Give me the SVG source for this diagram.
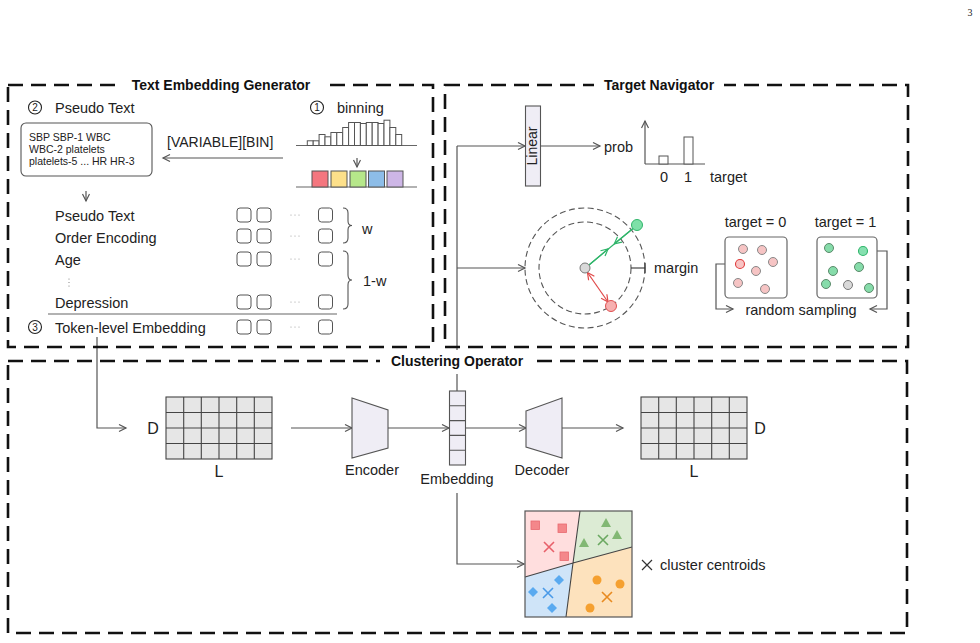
<svg xmlns="http://www.w3.org/2000/svg" width="980" height="643" viewBox="0 0 980 643">
<style>
.dash{fill:none;stroke:#111;stroke-width:2.6;stroke-dasharray:15 8}
.ln{fill:none;stroke:#555;stroke-width:1.2}
.t{font-family:"Liberation Sans",Arial,sans-serif;fill:#222;font-size:14px}
.s{font-size:10.5px}
.ttl{font-weight:bold;font-size:14px;fill:#111}
.sq{fill:#fff;stroke:#555;stroke-width:1}
.cell{fill:#e6e6e6;stroke:#444;stroke-width:1.1}
.lav{fill:#efedf5;stroke:#555;stroke-width:1.1}
.bar{fill:#fff;stroke:#555;stroke-width:1}
.pk{fill:#f6c4c4;stroke:#888;stroke-width:1}
.gr{fill:#86dcaa;stroke:#5a8a6a;stroke-width:1}
.gy{fill:#d9d9d9;stroke:#777;stroke-width:1}
</style>
<defs>
<marker id="a" markerWidth="10" markerHeight="10" refX="8" refY="4" orient="auto" markerUnits="userSpaceOnUse"><path d="M1,0.5 L8,4 L1,7.5" fill="none" stroke="#555" stroke-width="1.2"/></marker>
<marker id="ag" markerWidth="10" markerHeight="10" refX="8" refY="4" orient="auto" markerUnits="userSpaceOnUse"><path d="M1,0.5 L8,4 L1,7.5" fill="none" stroke="#2fb56a" stroke-width="1.2"/></marker>
<marker id="ar" markerWidth="10" markerHeight="10" refX="8" refY="4" orient="auto-start-reverse" markerUnits="userSpaceOnUse"><path d="M1,0.5 L8,4 L1,7.5" fill="none" stroke="#e04848" stroke-width="1.2"/></marker>
</defs>
<rect width="980" height="643" fill="#fff"/>
<text x="970" y="16" style="font-family:'Liberation Serif',serif;font-size:10px;fill:#222" text-anchor="middle">3</text>

<g id="connectors">
<polyline class="ln" points="97,337 97,428 126,428" marker-end="url(#a)"/>
<line class="ln" x1="283" y1="158" x2="163" y2="158" marker-end="url(#a)"/>
<line class="ln" x1="357" y1="158" x2="357" y2="167" marker-end="url(#a)"/>
<line class="ln" x1="86" y1="191" x2="86" y2="201" marker-end="url(#a)"/>
<line class="ln" x1="457" y1="146" x2="457" y2="391"/>
<line class="ln" x1="457" y1="146" x2="525" y2="146" marker-end="url(#a)"/>
<line class="ln" x1="457" y1="268" x2="525" y2="268" marker-end="url(#a)"/>
<line class="ln" x1="540" y1="146" x2="600" y2="146" marker-end="url(#a)"/>
<polyline class="ln" points="735,264 716,264 716,309 733,309" marker-end="url(#a)"/>
<polyline class="ln" points="868,251 887,251 887,309 870,309" marker-end="url(#a)"/>
<line class="ln" x1="291" y1="428" x2="352" y2="428" marker-end="url(#a)"/>
<line class="ln" x1="388" y1="428" x2="449" y2="428" marker-end="url(#a)"/>
<line class="ln" x1="466" y1="428" x2="526" y2="428" marker-end="url(#a)"/>
<line class="ln" x1="562" y1="428" x2="623" y2="428" marker-end="url(#a)"/>
<polyline class="ln" points="457,493 457,564 524,564" marker-end="url(#a)"/>
</g>

<g id="text-embedding-generator">
<rect class="dash" x="8" y="85" width="425" height="262"/>
<rect x="118" y="76" width="206" height="18" fill="#fff"/>
<text class="t ttl" x="221" y="90" text-anchor="middle">Text Embedding Generator</text>
<circle cx="35" cy="107.5" r="6.5" fill="none" stroke="#222" stroke-width="1.1"/>
<text class="t" x="35" y="111" text-anchor="middle" style="font-size:10px">2</text>
<text class="t" x="55" y="113" style="font-size:14.5px">Pseudo Text</text>
<circle cx="317" cy="107.5" r="6.5" fill="none" stroke="#222" stroke-width="1.1"/>
<text class="t" x="317" y="111" text-anchor="middle" style="font-size:10px">1</text>
<text class="t" x="337" y="113" style="font-size:14.5px">binning</text>
<rect x="21" y="123" width="131" height="53" rx="5" fill="#fff" stroke="#555" stroke-width="1.1"/>
<text class="t s" x="29" y="141">SBP SBP-1 WBC</text>
<text class="t s" x="29" y="153">WBC-2 platelets</text>
<text class="t s" x="29" y="165">platelets-5 ... HR HR-3</text>
<text class="t" x="167" y="147">[VARIABLE][BIN]</text>
<line x1="296" y1="145.5" x2="417" y2="145.5" stroke="#666" stroke-width="1.2"/>
<g>
<rect class="bar" x="307.3" y="140.8" width="5.9" height="4.7"/>
<rect class="bar" x="313.2" y="140.8" width="5.9" height="4.7"/>
<rect class="bar" x="319.1" y="134.5" width="5.9" height="11"/>
<rect class="bar" x="325" y="136.8" width="5.9" height="8.7"/>
<rect class="bar" x="330.9" y="132.5" width="5.9" height="13"/>
<rect class="bar" x="336.8" y="132.5" width="5.9" height="13"/>
<rect class="bar" x="342.7" y="127.5" width="5.9" height="18"/>
<rect class="bar" x="348.6" y="122.5" width="5.9" height="23"/>
<rect class="bar" x="354.5" y="122.5" width="5.9" height="23"/>
<rect class="bar" x="360.4" y="123.5" width="5.9" height="22"/>
<rect class="bar" x="366.3" y="122.5" width="5.9" height="23"/>
<rect class="bar" x="372.2" y="122.5" width="5.9" height="23"/>
<rect class="bar" x="378.1" y="123.5" width="5.9" height="22"/>
<rect class="bar" x="384" y="120.2" width="5.9" height="25.3"/>
<rect class="bar" x="389.9" y="127.5" width="5.9" height="18"/>
<rect class="bar" x="395.8" y="134.5" width="5.9" height="11"/>
</g>
<line x1="296" y1="187" x2="417" y2="187" stroke="#666" stroke-width="1.2"/>
<rect x="312" y="171" width="16" height="16" fill="#f4777f" stroke="#555" stroke-width="1"/>
<rect x="331" y="171" width="16" height="16" fill="#fde08a" stroke="#555" stroke-width="1"/>
<rect x="350" y="171" width="16" height="16" fill="#b6e78a" stroke="#555" stroke-width="1"/>
<rect x="368.5" y="171" width="16" height="16" fill="#8dbde8" stroke="#555" stroke-width="1"/>
<rect x="387" y="171" width="16" height="16" fill="#cdb6e6" stroke="#555" stroke-width="1"/>
<text class="t" x="55" y="221" style="font-size:14.5px">Pseudo Text</text>
<text class="t" x="55" y="243" style="font-size:14.5px">Order Encoding</text>
<text class="t" x="55" y="265" style="font-size:14.5px">Age</text>
<circle cx="69" cy="279" r="0.6" fill="#777"/><circle cx="69" cy="282.5" r="0.6" fill="#777"/><circle cx="69" cy="286" r="0.6" fill="#777"/>
<text class="t" x="55" y="308" style="font-size:14.5px">Depression</text>
<line x1="48" y1="314" x2="337" y2="314" stroke="#666" stroke-width="1.1"/>
<circle cx="35" cy="327" r="6.5" fill="none" stroke="#222" stroke-width="1.1"/>
<text class="t" x="35" y="330.5" text-anchor="middle" style="font-size:10px">3</text>
<text class="t" x="55" y="333" style="font-size:14.5px">Token-level Embedding</text>
<g>
<rect class="sq" x="237" y="208" width="14" height="14" rx="3"/><rect class="sq" x="257" y="208" width="14" height="14" rx="3"/><rect class="sq" x="318.5" y="208" width="14" height="14" rx="3"/>
<rect class="sq" x="237" y="229" width="14" height="14" rx="3"/><rect class="sq" x="257" y="229" width="14" height="14" rx="3"/><rect class="sq" x="318.5" y="229" width="14" height="14" rx="3"/>
<rect class="sq" x="237" y="252" width="14" height="14" rx="3"/><rect class="sq" x="257" y="252" width="14" height="14" rx="3"/><rect class="sq" x="318.5" y="252" width="14" height="14" rx="3"/>
<rect class="sq" x="237" y="295" width="14" height="14" rx="3"/><rect class="sq" x="257" y="295" width="14" height="14" rx="3"/><rect class="sq" x="318.5" y="295" width="14" height="14" rx="3"/>
<rect class="sq" x="237" y="320" width="14" height="14" rx="3"/><rect class="sq" x="257" y="320" width="14" height="14" rx="3"/><rect class="sq" x="318.5" y="320" width="14" height="14" rx="3"/>
</g>
<g fill="#999">
<circle cx="291" cy="215" r="0.6"/><circle cx="295" cy="215" r="0.6"/><circle cx="299" cy="215" r="0.6"/>
<circle cx="291" cy="236" r="0.6"/><circle cx="295" cy="236" r="0.6"/><circle cx="299" cy="236" r="0.6"/>
<circle cx="291" cy="259" r="0.6"/><circle cx="295" cy="259" r="0.6"/><circle cx="299" cy="259" r="0.6"/>
<circle cx="291" cy="302" r="0.6"/><circle cx="295" cy="302" r="0.6"/><circle cx="299" cy="302" r="0.6"/>
<circle cx="291" cy="327" r="0.6"/><circle cx="295" cy="327" r="0.6"/><circle cx="299" cy="327" r="0.6"/>
</g>
<path d="M343,208 Q348,208 348,213 L348,221 Q348,225.5 352,225.5 Q348,225.5 348,230 L348,238 Q348,243 343,243" fill="none" stroke="#555" stroke-width="1.1"/>
<text class="t" x="362" y="234" style="font-size:14.5px">w</text>
<path d="M343,251 Q348,251 348,256 L348,275 Q348,280 352,280 Q348,280 348,285 L348,304 Q348,309 343,309" fill="none" stroke="#555" stroke-width="1.1"/>
<text class="t" x="363" y="286" style="font-size:14.5px">1-w</text>
</g>

<g id="target-navigator">
<rect class="dash" x="445" y="85" width="463" height="262"/>
<rect x="594" y="76" width="130" height="18" fill="#fff"/>
<text class="t ttl" x="659" y="90" text-anchor="middle">Target Navigator</text>
<rect class="lav" x="525.5" y="106" width="15" height="80"/>
<text class="t" transform="translate(537,146) rotate(-90)" text-anchor="middle" style="font-size:14px">Linear</text>
<text class="t" x="604" y="152" style="font-size:14.5px">prob</text>
<line class="ln" x1="645" y1="164" x2="645" y2="121" marker-end="url(#a)"/>
<line class="ln" x1="645" y1="164" x2="705" y2="164"/>
<rect class="bar" x="659" y="156" width="9" height="8"/>
<rect class="bar" x="684" y="137" width="9" height="27"/>
<text class="t" x="664" y="182" text-anchor="middle" style="font-size:14.5px">0</text>
<text class="t" x="688" y="182" text-anchor="middle" style="font-size:14.5px">1</text>
<text class="t" x="710" y="182" style="font-size:14.5px">target</text>
<circle cx="585" cy="268" r="60" fill="none" stroke="#555" stroke-width="1.1" stroke-dasharray="6 3.5"/>
<circle cx="585" cy="268" r="46" fill="none" stroke="#555" stroke-width="1.1" stroke-dasharray="6 3.5"/>
<line x1="633" y1="228.5" x2="589" y2="265" stroke="#2fb56a" stroke-width="1.2"/>
<line x1="633" y1="228.5" x2="614.3" y2="243.8" stroke="#2fb56a" stroke-width="1.2" marker-end="url(#ag)"/>
<line x1="589" y1="265" x2="608.1" y2="248.9" stroke="#2fb56a" stroke-width="1.2" marker-end="url(#ag)"/>
<line x1="587.5" y1="272.5" x2="608" y2="302" stroke="#e04848" stroke-width="1.2" marker-start="url(#ar)" marker-end="url(#ar)"/>
<circle cx="585" cy="268" r="5" class="gy"/>
<circle cx="637" cy="225" r="5.5" fill="#7ee0a8" stroke="#2fb56a" stroke-width="1"/>
<circle cx="611" cy="306" r="5.5" fill="#f7b0b0" stroke="#e05050" stroke-width="1"/>
<line x1="631" y1="268" x2="645" y2="268" stroke="#333" stroke-width="1.1"/>
<line x1="645" y1="263" x2="645" y2="273" stroke="#333" stroke-width="1.1"/>
<text class="t" x="654" y="273" style="font-size:14.5px">margin</text>
<text class="t" x="755.5" y="227" text-anchor="middle" style="font-size:14.5px">target = 0</text>
<text class="t" x="845.5" y="227" text-anchor="middle" style="font-size:14.5px">target = 1</text>
<rect x="725" y="237" width="62" height="61" rx="4" fill="#fff" stroke="#666" stroke-width="1.2"/>
<rect x="817" y="237" width="60" height="61" rx="4" fill="#fff" stroke="#666" stroke-width="1.2"/>
<circle class="pk" cx="743" cy="249" r="4.5"/>
<circle class="pk" cx="762" cy="250" r="4.5"/>
<circle class="pk" cx="773" cy="262" r="4.5"/>
<circle cx="740" cy="264" r="4.5" fill="#f8c4c4" stroke="#e03c3c" stroke-width="1.1"/>
<circle class="pk" cx="756" cy="271" r="4.5"/>
<circle class="pk" cx="738" cy="283" r="4.5"/>
<circle class="pk" cx="765" cy="289" r="4.5"/>
<circle class="gr" cx="829" cy="248" r="4.5"/>
<circle cx="863" cy="251" r="4.5" fill="#86e0b0" stroke="#2fb56a" stroke-width="1.1"/>
<circle class="gr" cx="833" cy="271" r="4.5"/>
<circle class="gr" cx="859" cy="267" r="4.5"/>
<circle class="gr" cx="826" cy="284" r="4.5"/>
<circle class="gy" cx="848" cy="285" r="4.5"/>
<circle class="gr" cx="869" cy="288" r="4.5"/>
<text class="t" x="801" y="315" text-anchor="middle" style="font-size:14.5px">random sampling</text>
</g>

<g id="clustering-operator">
<rect class="dash" x="8" y="361" width="899" height="272"/>
<rect x="380" y="350" width="154" height="24" fill="#fff"/>
<text class="t ttl" x="457" y="366" text-anchor="middle">Clustering Operator</text>
</g>

<g id="input-grid">
<rect class="cell" x="166" y="397" width="106" height="62"/>
<path d="M183.7,397V459M201.3,397V459M219,397V459M236.7,397V459M254.3,397V459M166,412.5H272M166,428H272M166,443.5H272" stroke="#444" stroke-width="1.1"/>
<text class="t" x="153" y="434" text-anchor="middle" style="font-size:16px">D</text>
<text class="t" x="219" y="477" text-anchor="middle" style="font-size:16px">L</text>
</g>

<g id="encoder">
<polygon class="lav" points="352,398 388,410 388,448 352,458"/>
<text class="t" x="372" y="475" text-anchor="middle" style="font-size:14.5px">Encoder</text>
</g>

<g id="embedding">
<rect class="lav" x="449.5" y="391" width="16" height="74"/>
<path d="M449.5,405.8H465.5M449.5,420.6H465.5M449.5,435.4H465.5M449.5,450.2H465.5" stroke="#555" stroke-width="1.1"/>
<text class="t" x="457" y="484" text-anchor="middle" style="font-size:14.5px">Embedding</text>
</g>

<g id="decoder">
<polygon class="lav" points="526,411 562,398 562,458 526,447"/>
<text class="t" x="542" y="475" text-anchor="middle" style="font-size:14.5px">Decoder</text>
</g>

<g id="output-grid">
<rect class="cell" x="641" y="397" width="106" height="62"/>
<path d="M658.7,397V459M676.3,397V459M694,397V459M711.7,397V459M729.3,397V459M641,412.5H747M641,428H747M641,443.5H747" stroke="#444" stroke-width="1.1"/>
<text class="t" x="760" y="434" text-anchor="middle" style="font-size:16px">D</text>
<text class="t" x="694" y="477" text-anchor="middle" style="font-size:16px">L</text>
</g>

<g id="clusters">
<polygon points="525,511 580,511 573,563 525,577" fill="#ffdede"/>
<polygon points="580,511 632,511 632,547 573,563" fill="#dcebd4"/>
<polygon points="525,577 573,563 566,617 525,617" fill="#cfe4f8"/>
<polygon points="573,563 632,547 632,617 566,617" fill="#fde2bd"/>
<path d="M580,511 L573,563 L566,617 M525,577 L573,563 L632,547" fill="none" stroke="#444" stroke-width="1.1"/>
<rect x="525" y="511" width="107" height="106" fill="none" stroke="#555" stroke-width="1.2"/>
<g fill="#f4878a" stroke="#e86a70" stroke-width="0.8">
<rect x="531" y="521" width="8.5" height="8.5"/><rect x="558" y="524" width="8.5" height="8.5"/><rect x="560" y="552" width="8.5" height="8.5"/>
</g>
<path d="M544,542 L554,552 M554,542 L544,552" stroke="#e8606a" stroke-width="1.6"/>
<g fill="#82b874">
<polygon points="606,518 611,527 601,527"/><polygon points="617,530 622,539 612,539"/><polygon points="584,538 589,547 579,547"/>
</g>
<path d="M598,535 L608,545 M608,535 L598,545" stroke="#6aa860" stroke-width="1.6"/>
<g fill="#5aaaf0">
<polygon points="559,575 564,580 559,585 554,580"/><polygon points="533,587 538,592 533,597 528,592"/><polygon points="552,603 557,608 552,613 547,608"/>
</g>
<path d="M543,588 L553,598 M553,588 L543,598" stroke="#4a9ae8" stroke-width="1.6"/>
<g fill="#f5a030">
<circle cx="597" cy="580" r="4.5"/><circle cx="620" cy="584" r="4.5"/><circle cx="590" cy="608" r="4.5"/>
</g>
<path d="M602,592 L612,602 M612,592 L602,602" stroke="#e88a20" stroke-width="1.6"/>
<path d="M642,560 L652,570 M652,560 L642,570" stroke="#333" stroke-width="1.2"/>
<text class="t" x="660" y="570" style="font-size:14.5px">cluster centroids</text>
</g>
</svg>
